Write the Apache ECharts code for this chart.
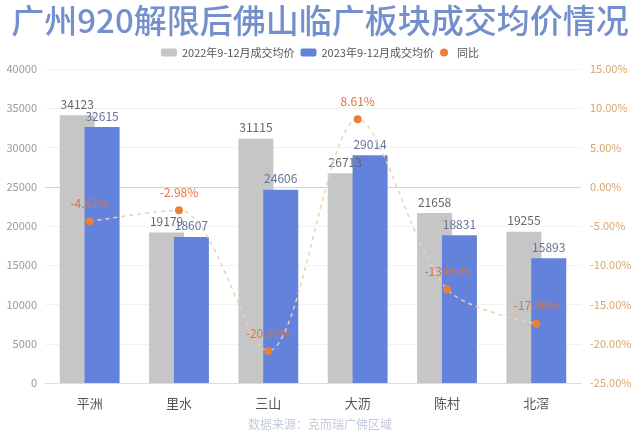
<!DOCTYPE html>
<html>
<head>
<meta charset="utf-8">
<script src="https://cdn.jsdelivr.net/npm/echarts@6/dist/echarts.min.js"></script>
<style>html,body{margin:0;padding:0;background:#fff}#c{width:640px;height:433px}</style>
</head>
<body>
<div id="c"></div>
<script>
var categories = ['平洲', '里水', '三山', '大沥', '陈村', '北滘'];
var price2022 = [34123, 19179, 31115, 26713, 21658, 19255];
var price2023 = [32615, 18607, 24606, 29014, 18831, 15893];
var yoy = [-4.42, -2.98, -20.92, 8.61, -13.05, -17.46];
var seriesNames = ['2022年9-12月成交均价', '2023年9-12月成交均价', '同比'];
var titleText = '广州920解限后佛山临广板块成交均价情况';
var sourceText = '数据来源：克而瑞广佛区域';

var chart = echarts.init(document.getElementById('c'));
var font = '"Noto Sans CJK SC", "Noto Sans", sans-serif';
chart.setOption({
  animation: false,
  textStyle: { fontFamily: font },
  title: [{
    text: titleText, left: 'center', top: -1,
    textStyle: { fontSize: 33, fontWeight: 500, color: '#7490cc', fontFamily: font }
  }, {
    text: sourceText, left: 'center', top: 413,
    textStyle: { fontSize: 12, fontWeight: 'normal', color: '#c3cbdc', fontFamily: font }
  }],
  legend: {
    top: 42, left: 'center', itemWidth: 16, itemHeight: 8, itemGap: 6,
    textStyle: { fontSize: 11, color: '#555' },
    data: [seriesNames[0], seriesNames[1], { name: seriesNames[2], icon: 'circle' }]
  },
  grid: { left: 45, right: 59, top: 69, bottom: 50 },
  xAxis: {
    type: 'category', data: categories,
    axisLine: { lineStyle: { color: '#dcdcdc' } },
    axisTick: { show: false },
    axisLabel: { fontSize: 13, color: '#555', margin: 14 }
  },
  yAxis: [{
    type: 'value', min: 0, max: 40000, interval: 5000,
    axisLabel: { fontSize: 11, color: '#999', margin: 8, formatter: function (v) { return String(v); } },
    axisLine: { show: false }, axisTick: { show: false },
    splitLine: { lineStyle: { color: '#f2f2f2' } }
  }, {
    type: 'value', min: -25, max: 15, interval: 5,
    axisLabel: { fontSize: 11, color: '#d9a56e', margin: 9, formatter: function (v) { return v.toFixed(2) + '%'; } },
    axisLine: { show: false }, axisTick: { show: false },
    splitLine: { show: false }
  }],
  series: [{
    name: seriesNames[0], type: 'bar', data: price2022, barWidth: 35, barGap: '-29%',
    itemStyle: { color: '#c6c6c6' },
    label: { show: true, position: 'top', fontSize: 12, color: '#666', distance: 5 }
  }, {
    name: seriesNames[1], type: 'bar', data: price2023, barWidth: 35,
    itemStyle: { color: '#6282dc' },
    label: { show: true, position: 'top', fontSize: 12, color: '#66739a', distance: 5 }
  }, {
    name: seriesNames[2], type: 'line', yAxisIndex: 1, data: yoy, smooth: 0.3,
    symbol: 'circle', symbolSize: 8, z: 5,
    itemStyle: { color: '#e8803a' },
    lineStyle: { color: '#f2cfae', width: 1.5, type: [4, 4] },
    label: { show: true, position: 'top', distance: 8, fontSize: 12, color: '#e0733a',
      formatter: function (p) { return p.value.toFixed(2) + '%'; } },
    markLine: {
      silent: true, symbol: 'none', label: { show: false }, z: 1,
      lineStyle: { color: '#e6d2b6', type: 'solid', width: 1 },
      data: [{ yAxis: 0 }]
    }
  }]
});
</script>
</body>
</html>
